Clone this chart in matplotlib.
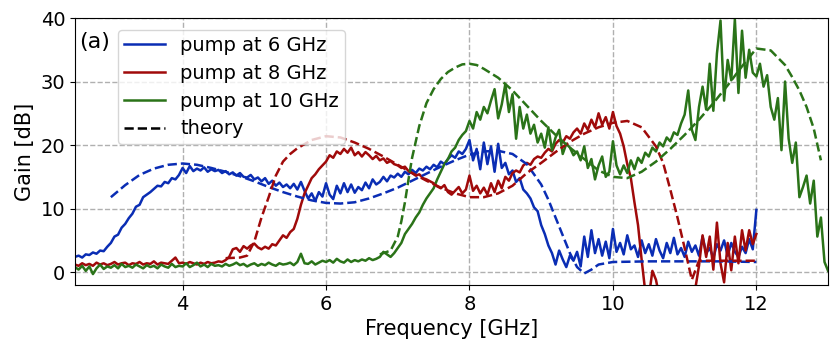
import numpy as np
import matplotlib.pyplot as plt

# measured gain, sampled every 0.05 GHz
f_meas = np.round(np.arange(2.5, 12.001, 0.05), 2)
f_meas10 = np.round(np.arange(2.5, 13.001, 0.05), 2)

gain_6 = [2.4, 2.6, 2.3, 2.8, 2.7, 3.1, 2.9, 3.4, 3.3, 4.0,
          4.6, 5.6, 5.9, 7.0, 7.6, 8.5, 9.2, 10.3, 10.6, 11.8,
          12.2, 12.6, 13.1, 13.6, 13.5, 14.2, 14.0, 14.8, 14.6, 15.3,
          16.4, 15.6, 16.7, 15.9, 16.3, 16.0, 16.5, 15.8, 16.2, 15.9,
          16.1, 15.6, 15.9, 15.4, 15.7, 15.2, 15.6, 15.0, 14.9, 15.3,
          14.6, 14.9, 14.3, 14.8, 13.9, 14.4, 13.6, 14.1, 13.4, 13.8,
          13.2, 13.9, 13.0, 14.2, 12.8, 11.6, 12.4, 11.2, 12.6, 11.9,
          14.0, 12.2, 11.5, 13.6, 12.4, 14.0, 12.6, 13.8, 12.5, 13.4,
          12.9, 14.1, 13.2, 14.6, 13.8, 14.2, 15.0, 14.3, 15.2, 14.9,
          15.5, 15.0, 15.8, 15.4, 16.1, 15.6, 16.3, 16.0, 16.6, 16.2,
          16.9, 16.5, 17.4, 17.0, 17.8, 18.4, 18.0, 19.0, 18.6, 19.4,
          20.8, 17.6, 19.4, 16.2, 20.4, 17.0, 19.8, 15.8, 20.2, 16.4,
          17.2, 15.4, 16.0, 14.2, 14.8, 13.0, 12.4, 11.6, 10.2, 9.6,
          7.4, 6.0, 4.2, 3.0, 1.2, 3.4, 2.0, 0.8, 2.6, 1.8,
          3.2, 0.9, 5.6, 2.4, 6.6, 3.0, 5.2, 2.6, 4.8, 2.2,
          6.8, 3.2, 4.6, 2.8, 5.8, 3.6, 4.2, 2.4, 5.0, 3.0,
          4.4, 2.6, 5.2, 3.4, 2.2, 4.6, 3.0, 5.4, 2.8, 3.8,
          2.4, 4.8, 3.2, 4.2, 2.6, 5.6, 3.0, 3.8, 2.2, 4.4,
          3.4, 5.0, 2.6, 4.6, 3.2, 2.4, 4.0, 3.0, 5.2, 3.6,
          9.8]

gain_8 = [1.2, 1.0, 1.4, 1.1, 1.3, 1.0, 1.5, 1.2, 1.4, 1.1,
          1.3, 1.6, 1.2, 1.4, 1.5, 1.1, 1.4, 1.3, 1.6, 1.2,
          1.4, 1.3, 1.7, 1.2, 1.5, 1.4, 1.3, 1.8, 2.3, 1.4,
          1.5, 1.3, 1.6, 1.4, 1.2, 1.5, 1.3, 1.6, 1.4, 1.5,
          1.7, 1.6, 1.9, 2.4, 3.6, 3.8, 3.2, 4.1, 3.7, 4.2,
          4.5, 3.9, 3.6, 4.0, 3.7, 4.4, 4.2, 5.0, 5.8, 5.4,
          6.3, 6.8, 8.4, 10.6, 12.4, 13.6, 14.8, 15.4, 16.2, 16.8,
          17.4, 18.4, 18.0, 19.0, 18.6, 19.4, 18.8, 19.6, 18.4, 18.9,
          18.2, 18.9, 18.4, 17.8, 18.3, 17.6, 17.9, 17.2, 17.5, 17.0,
          16.8, 16.4, 16.6, 15.9, 15.6, 15.2, 15.4, 14.8, 14.6, 14.3,
          14.0, 13.5, 13.2, 13.7, 12.6, 12.2, 12.8, 13.4, 12.4, 13.0,
          15.2, 12.8, 13.6, 12.4, 13.3, 12.2, 14.0, 12.6, 14.4, 13.2,
          15.0, 14.4, 15.6, 16.0, 15.7, 16.8, 17.2, 16.9, 17.8, 18.2,
          18.0, 18.8, 19.4, 19.0, 20.2, 20.8, 20.4, 21.4, 21.0, 22.0,
          22.6, 21.8, 23.4, 22.4, 24.0, 22.8, 25.0, 23.2, 24.4, 22.6,
          25.2, 23.0, 21.8, 19.8, 17.0, 14.8, 11.0, 7.4, 2.0, -3.0,
          -4.0, 0.2, -1.2, -4.0, -5.0, -5.0, -5.0, -5.0, -5.0, -5.0,
          -5.0, -5.0, -5.0, -2.5, 1.0, 5.8, 2.4, 5.6, 0.4, 7.8,
          1.4, -1.6, 4.6, 0.3, 5.6, 1.4, 6.6, 3.4, 6.6, 4.4,
          6.0]

gain_10 = [0.8, 0.4, 1.0, 0.2, 0.9, -0.3, 0.6, 1.2, 0.5, 0.9,
           0.7, 1.1, 0.6, 1.3, 0.8, 1.0, 0.7, 1.2, 0.9, 0.6,
           1.1, 0.8, 1.0, 0.6, 1.2, 0.9, 0.7, 1.3, 0.8, 1.0,
           0.9, 1.4, 0.8, 1.1, 1.5, 0.9, 1.2, 0.8, 1.3, 1.0,
           1.1, 0.9, 1.3, 1.0, 1.2, 1.5, 1.1, 1.3, 0.9, 1.2,
           1.4, 1.0, 1.3, 1.1, 1.5, 1.2, 1.0, 1.4, 1.2, 1.3,
           1.5, 1.1, 1.6, 2.9, 1.4, 1.3, 1.7, 1.2, 1.5, 1.8,
           1.6, 1.9, 1.5, 2.1, 1.7, 1.5, 2.0, 1.6, 1.9, 1.7,
           2.0, 1.8, 2.2, 1.9, 2.1, 2.4, 3.2, 2.8, 2.4, 3.0,
           3.8, 4.6, 6.0, 6.8, 7.6, 8.6, 9.4, 10.6, 11.6, 12.4,
           13.2, 14.6, 15.8, 17.0, 17.8, 19.0, 19.6, 20.8, 21.6, 22.2,
           23.8, 22.6, 25.2, 24.0, 26.0, 25.0, 27.0, 28.8, 24.2, 26.4,
           29.6, 25.2, 28.0, 21.0, 26.0, 22.6, 24.8, 21.8, 23.2, 20.4,
           21.8, 19.6, 22.8, 19.2, 21.2, 22.4, 18.6, 20.2, 19.6, 18.4,
           19.0, 17.6, 19.8, 16.4, 17.8, 14.6, 16.8, 18.2, 15.0, 15.8,
           20.6, 16.8, 15.4, 16.8, 15.6, 17.6, 16.2, 18.0, 17.2, 18.8,
           18.2, 19.6, 19.0, 20.4, 19.8, 21.2, 20.6, 22.0, 21.6, 23.4,
           24.8, 28.6, 22.4, 20.8, 26.0, 29.2, 25.6, 32.8, 25.4, 34.4,
           39.6, 27.0, 33.4, 30.2, 39.8, 28.2, 38.0, 30.6, 35.0, 31.4,
           30.8, 32.8, 29.2, 31.0, 26.0, 24.0, 27.4, 19.2, 30.0, 21.0,
           17.2, 20.4, 11.8, 13.4, 15.2, 10.8, 14.4, 5.6, 8.6, 1.6,
           0.2]

# theory curves
f_th6 = [3.0, 3.2, 3.4, 3.6, 3.8, 4.0, 4.2, 4.4, 4.6, 4.8, 5.0, 5.2, 5.4, 5.6,
         5.8, 6.0, 6.2, 6.4, 6.6, 6.8, 7.0, 7.2, 7.4, 7.6, 7.8, 8.0, 8.2, 8.4,
         8.6, 8.8, 9.0, 9.1, 9.2, 9.3, 9.4, 9.5, 9.6, 9.7, 9.8, 10.0, 10.5,
         11.0, 11.5, 12.0]
th6 = [11.8, 13.7, 15.3, 16.3, 16.9, 17.1, 16.9, 16.4, 15.8, 15.1, 14.3, 13.4,
       12.6, 11.9, 11.3, 10.9, 10.8, 11.0, 11.6, 12.4, 13.3, 14.4, 15.5, 16.6,
       17.6, 18.5, 19.0, 19.1, 18.6, 17.0, 13.8, 11.4, 8.6, 5.8, 3.0, 0.8,
       -0.2, 0.4, 1.2, 1.6, 1.7, 1.7, 1.7, 1.6]

f_th8 = [4.6, 4.8, 4.9, 5.0, 5.1, 5.2, 5.3, 5.4, 5.5, 5.6, 5.8, 6.0, 6.2, 6.4,
         6.6, 6.8, 7.0, 7.2, 7.4, 7.6, 7.8, 8.0, 8.2, 8.4, 8.6, 8.8, 9.0, 9.2,
         9.4, 9.6, 9.8, 10.0, 10.2, 10.4, 10.6, 10.7, 10.8, 10.9, 11.0, 11.1,
         11.2, 11.5, 12.0]
th8 = [2.2, 2.3, 2.6, 4.8, 8.6, 11.8, 15.2, 17.4, 18.6, 19.5, 20.8, 21.4, 21.2,
       20.4, 19.4, 18.2, 16.9, 15.6, 14.4, 13.3, 12.4, 11.8, 11.8, 12.4, 13.6,
       15.6, 17.2, 18.9, 20.5, 21.8, 22.8, 23.5, 23.8, 22.8, 19.8, 17.2, 13.0,
       8.6, 3.8, -1.2, 1.8, 1.8, 1.8]

f_th10 = [6.75, 6.9, 7.0, 7.05, 7.1, 7.15, 7.2, 7.3, 7.4, 7.5, 7.6, 7.7, 7.8,
          7.9, 8.0, 8.1, 8.2, 8.4, 8.6, 8.8, 9.0, 9.2, 9.4, 9.6, 9.8, 10.0,
          10.2, 10.4, 10.6, 10.8, 11.0, 11.2, 11.4, 11.6, 11.8, 12.0, 12.2,
          12.4, 12.5, 12.6, 12.7, 12.8, 12.9]
th10 = [2.8, 3.4, 5.6, 8.0, 11.0, 14.6, 18.0, 23.0, 26.6, 28.8, 30.4, 31.5,
        32.2, 32.7, 32.8, 32.6, 32.0, 30.6, 28.6, 26.2, 23.8, 21.6, 19.6, 17.8,
        16.0, 15.0, 14.8, 15.8, 17.4, 19.4, 21.6, 24.0, 26.6, 29.4, 32.4, 35.2,
        34.9, 32.6, 30.7, 28.6, 26.0, 22.6, 17.6]

c6, c8, c10 = '#0a2db4', '#a00a0a', '#2a7318'

fig = plt.figure(figsize=(8.39, 3.53), dpi=100)
ax = fig.add_axes([0.0894, 0.193, 0.8976, 0.756])

ax.plot(f_meas, gain_6, color=c6, lw=1.8, label='pump at 6 GHz')
ax.plot(f_meas, gain_8, color=c8, lw=1.8, label='pump at 8 GHz')
ax.plot(f_meas10, gain_10, color=c10, lw=1.8, label='pump at 10 GHz')
ax.plot(f_th6, th6, '--', color=c6, lw=1.8)
ax.plot(f_th8, th8, '--', color=c8, lw=1.8)
ax.plot(f_th10, th10, '--', color=c10, lw=1.8)
ax.plot([], [], '--', color='k', lw=1.8, label='theory')

ax.set_xlim(2.5, 13)
ax.set_ylim(-2, 40)
ax.set_xticks([4, 6, 8, 10, 12])
ax.set_yticks([0, 10, 20, 30, 40])
ax.tick_params(labelsize=14)
ax.grid(True, ls='--', color='#b0b0b0', lw=1)
ax.set_xlabel('Frequency [GHz]', fontsize=15)
ax.set_ylabel('Gain [dB]', fontsize=15)
ax.text(0.006, 0.91, '(a)', transform=ax.transAxes, fontsize=16, va='center')

ax.legend(loc='upper left', bbox_to_anchor=(0.044, 0.99), fontsize=14,
          framealpha=0.8, handlelength=2.1, borderpad=0.3, labelspacing=0.45)

fig.savefig('out.png', dpi=100)
